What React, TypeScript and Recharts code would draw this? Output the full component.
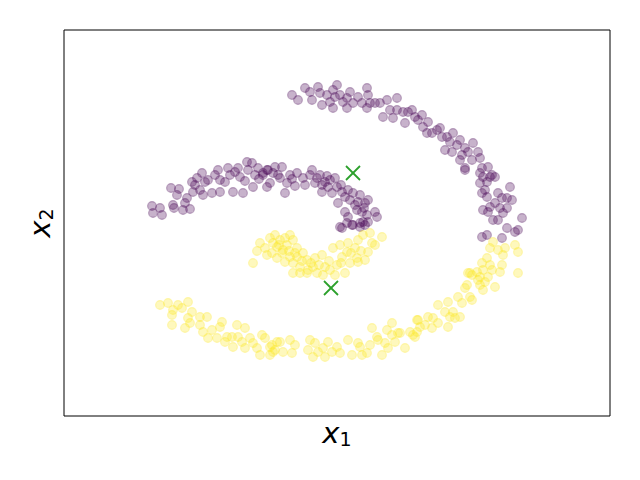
import { ReferenceArea, Scatter, ScatterChart, XAxis, YAxis } from "recharts";

// two spiral arms per class (arbitrary units, origin near the middle)
const purpleInnerArm: [number, number][] = [
  [-185, 17], [-184, 10], [-177, 15], [-175, 8], [-164, 18], [-163, 15], [-154, 13], [-147, 14],
  [-166, 35], [-158, 34], [-160, 28], [-150, 25], [-152, 20], [-144, 31], [-145, 41], [-135, 50],
  [-142, 38], [-137, 33], [-132, 41], [-129, 43], [-134, 28], [-125, 30], [-117, 31], [-119, 53],
  [-117, 43], [-112, 41], [-109, 55], [-107, 48], [-104, 31], [-94, 30], [-97, 46], [-99, 55],
  [-90, 61], [-85, 60], [-89, 53], [-82, 48], [-79, 55], [-84, 36], [-74, 48], [-70, 36], [-69, 53],
  [-74, 50], [-70, 53], [-67, 40], [-62, 56], [-59, 48], [-55, 56], [-57, 45], [-50, 40], [-52, 30],
  [-47, 48], [-40, 50], [-42, 37], [-32, 38], [-34, 45], [-27, 48], [-25, 53], [-20, 45], [-17, 48],
  [-15, 38], [-15, 31], [-12, 41], [-7, 43], [-9, 36], [-5, 30], [-2, 45], [0, 36], [1, 20], [5, 31],
  [8, 26], [11, 33], [13, 23], [16, 30], [23, 28], [21, 21], [28, 20], [31, 23], [8, 11], [11, 6],
  [20, 13], [25, 11], [30, 8], [38, 11], [40, 6], [26, 1], [15, -2], [3, -4], [23, -4], [5, -5],
  [10, 0], [16, -2], [23, 0], [28, -2], [31, 1],
  [-140, 45], [-122, 48], [-102, 51], [-92, 42], [-78, 44], [-64, 50], [-45, 44], [-22, 40],
  [-10, 47], [4, 38], [18, 18], [27, 15],
];

const purpleOuterArm: [number, number][] = [
  [-45, 128], [-39, 123], [-32, 135], [-27, 131], [-25, 123], [-19, 136], [-17, 130], [-15, 118],
  [-10, 128], [-7, 121], [-4, 133], [0, 138], [-2, 126], [-4, 115], [3, 128], [6, 121], [10, 125],
  [10, 115], [13, 131], [16, 120], [21, 126], [25, 120], [30, 135], [31, 128], [30, 115], [33, 120],
  [38, 120], [43, 120], [50, 123], [60, 125], [53, 113], [60, 113], [66, 111], [46, 106], [56, 105],
  [68, 100], [71, 111], [75, 113], [78, 106], [81, 103], [85, 108], [86, 96], [91, 101], [90, 90],
  [95, 90], [100, 93], [103, 95], [105, 86], [110, 86], [108, 73], [113, 81], [116, 90], [115, 71],
  [120, 78], [123, 83], [125, 68], [128, 75], [131, 71], [135, 63], [136, 80], [141, 71], [143, 65],
  [123, 63], [128, 55], [145, 55], [151, 56], [155, 48], [146, 46], [128, 53], [143, 50], [153, 46],
  [158, 46], [143, 40], [150, 41], [148, 33], [145, 30], [161, 30], [173, 36], [150, 26], [153, 16],
  [146, 13], [151, 11], [158, 20], [165, 25], [170, 25], [175, 23], [163, 15], [170, 15], [166, 10],
  [156, 3], [161, 3], [170, -5], [178, -9], [181, -7], [185, 5], [145, -14], [150, -12], [165, -15],
];

const yellowInnerArm: [number, number][] = [
  [-84, -40], [-77, -20], [-72, -25], [-67, -15], [-64, -20], [-65, -30], [-60, -24], [-57, -17],
  [-54, -27], [-50, -22], [-47, -12], [-44, -17], [-40, -25], [-47, -34], [-52, -39], [-44, -40],
  [-40, -34], [-34, -30], [-30, -37], [-37, -44], [-29, -47], [-44, -50], [-24, -44], [-15, -32],
  [-20, -50], [-12, -44], [-14, -52], [-7, -47], [-2, -52], [0, -42], [-4, -25], [3, -22], [5, -34],
  [10, -29], [11, -20], [18, -25], [21, -17], [20, -35], [26, -12], [33, -10], [35, -20], [31, -29],
  [28, -37], [21, -39], [38, -22], [45, -14], [13, -40], [8, -50], [-30, -50], [-37, -50], [-22, -35],
  [-62, -12], [-55, -30], [-58, -22], [-48, -28], [-52, -15], [-42, -30], [-35, -38], [-26, -40],
  [-18, -42], [-8, -38], [4, -40], [14, -30], [24, -28], [-70, -32], [-80, -28], [-60, -35],
];

const yellowOuterArm: [number, number][] = [
  [-177, -82], [-169, -80], [-164, -87], [-165, -92], [-159, -82], [-155, -85], [-149, -79],
  [-165, -102], [-149, -95], [-147, -100], [-152, -105], [-145, -89], [-137, -94], [-137, -102],
  [-134, -109], [-130, -94], [-129, -115], [-125, -107], [-120, -115], [-117, -104], [-115, -99],
  [-110, -114], [-112, -119], [-105, -114], [-104, -124], [-100, -102], [-99, -114], [-95, -119],
  [-92, -105], [-92, -125], [-87, -115], [-84, -120], [-80, -125], [-77, -132], [-75, -112],
  [-72, -115], [-67, -124], [-64, -129], [-60, -119], [-67, -132], [-65, -122], [-62, -127],
  [-57, -119], [-54, -129], [-47, -117], [-45, -130], [-42, -122], [-27, -117], [-29, -127],
  [-24, -134], [-22, -120], [-19, -129], [-14, -125], [-12, -134], [-9, -119], [-5, -129], [0, -124],
  [3, -130], [11, -117], [15, -132], [21, -120], [23, -124], [25, -132], [30, -130], [33, -122],
  [35, -105], [40, -114], [41, -117], [45, -132], [48, -120], [50, -107], [51, -125], [55, -100],
  [55, -112], [58, -119], [61, -110], [68, -125], [73, -109], [76, -112], [80, -97], [80, -109],
  [63, -110], [78, -114], [81, -97], [83, -104], [88, -102], [91, -94], [95, -105], [96, -95],
  [101, -100], [101, -82], [108, -89], [111, -79], [111, -104], [113, -94], [116, -89], [118, -95],
  [121, -74], [123, -94], [125, -80], [128, -65], [130, -62], [133, -74], [135, -77], [131, -50],
  [135, -52], [141, -57], [143, -62], [146, -67], [148, -59], [158, -64], [163, -49], [156, -19],
  [153, -25], [161, -27], [168, -25], [178, -22], [181, -29], [166, -32], [150, -35], [153, -42],
  [145, -40], [165, -42], [146, -47], [133, -50], [140, -49], [155, -47], [181, -50], [143, -54],
  [151, -54],
];

const centroids: [number, number][] = [
  [16, 50],
  [-6, -65],
];

const toPoints = (arr: [number, number][]) => arr.map(([x, y]) => ({ x, y }));

const purple = toPoints([...purpleInnerArm, ...purpleOuterArm]);
const yellow = toPoints([...yellowInnerArm, ...yellowOuterArm]);
const centers = toPoints(centroids);

const dot = (color: string) => (props: any) => (
  <circle
    cx={props.cx}
    cy={props.cy}
    r={4.4}
    fill={color}
    fillOpacity={0.3}
    stroke={color}
    strokeOpacity={0.3}
    strokeWidth={1.1}
  />
);

const cross = (props: any) => {
  const { cx, cy } = props;
  const s = 7;
  return (
    <g stroke="#2ca02c" strokeWidth={1.8}>
      <line x1={cx - s} y1={cy - s} x2={cx + s} y2={cy + s} />
      <line x1={cx - s} y1={cy + s} x2={cx + s} y2={cy - s} />
    </g>
  );
};

const XLabel = (props: any) => {
  const { x, y, width } = props.viewBox;
  return (
    <text x={x + width / 2} y={y + 27} textAnchor="middle" fontFamily="DejaVu Sans" fontSize={29} fill="#000">
      <tspan fontStyle="italic">x</tspan>
      <tspan fontSize={19} dy={3}>1</tspan>
    </text>
  );
};

const YLabel = (props: any) => {
  const { x, y, height } = props.viewBox;
  const cx = x + 20;
  const cy = y + height / 2;
  return (
    <text
      x={cx}
      y={cy}
      transform={`rotate(-90 ${cx} ${cy})`}
      textAnchor="middle"
      fontFamily="DejaVu Sans"
      fontSize={29}
      fill="#000"
    >
      <tspan fontStyle="italic">x</tspan>
      <tspan fontSize={19} dy={3}>2</tspan>
    </text>
  );
};

export default function App() {
  return (
    <div style={{ position: "fixed", left: 0, top: 0, background: "#fff" }}>
      <ScatterChart width={640} height={480} margin={{ top: 30, right: 30, bottom: 30, left: 30 }}>
        <XAxis
          type="number"
          dataKey="x"
          domain={[-273, 273]}
          allowDataOverflow
          height={34}
          tick={false}
          tickLine={false}
          axisLine={false}
          label={{ content: XLabel }}
        />
        <YAxis
          type="number"
          dataKey="y"
          domain={[-193, 193]}
          allowDataOverflow
          width={34}
          tick={false}
          tickLine={false}
          axisLine={false}
          label={{ content: YLabel }}
        />
        <ReferenceArea x1={-273} x2={273} y1={-193} y2={193} fill="none" stroke="#000" strokeWidth={1} />
        <Scatter data={purple} shape={dot("#440154")} isAnimationActive={false} />
        <Scatter data={yellow} shape={dot("#fde725")} isAnimationActive={false} />
        <Scatter data={centers} shape={cross} isAnimationActive={false} />
      </ScatterChart>
    </div>
  );
}
